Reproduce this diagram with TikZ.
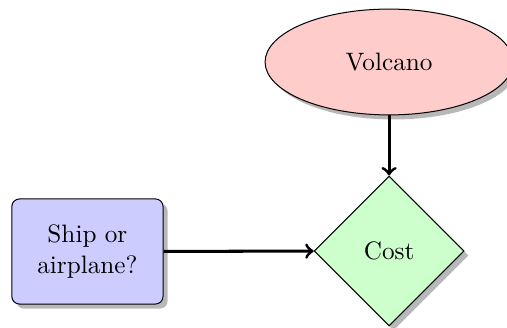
\documentclass[tikz,border=0pt]{standalone}
\usetikzlibrary{shapes.geometric,shadows}
\begin{document}
\begin{tikzpicture}[x=1pt,y=1pt,
  shade/.style={drop shadow={fill=black!28,opacity=1,shadow xshift=1.8pt,shadow yshift=-1.8pt}},
  startbox/.style={ellipse,draw,fill=red!20,shade,inner sep=0pt,minimum width=98.4pt,minimum height=42pt},
  decision/.style={diamond,draw,fill=green!20,shade,inner sep=0pt,aspect=1,minimum width=59.5pt,minimum height=59.5pt},
  block/.style={rectangle,draw,fill=blue!20,shade,rounded corners=3pt,align=center,inner sep=0pt,minimum width=60pt,minimum height=41.7pt},
  link/.style={->,very thick}]
\clip (0,0) rectangle (201.2,-129.8);
\node[startbox] (volcano) at (154.4,-24.6) {Volcano};
\node[decision] (cost) at (154.4,-99.6) {Cost};
\node[block] (ship) at (34.7,-99.8) {Ship or\\airplane?};
\draw[link] (volcano) -- (cost);
\draw[link] (ship) -- (cost);
\end{tikzpicture}
\end{document}
